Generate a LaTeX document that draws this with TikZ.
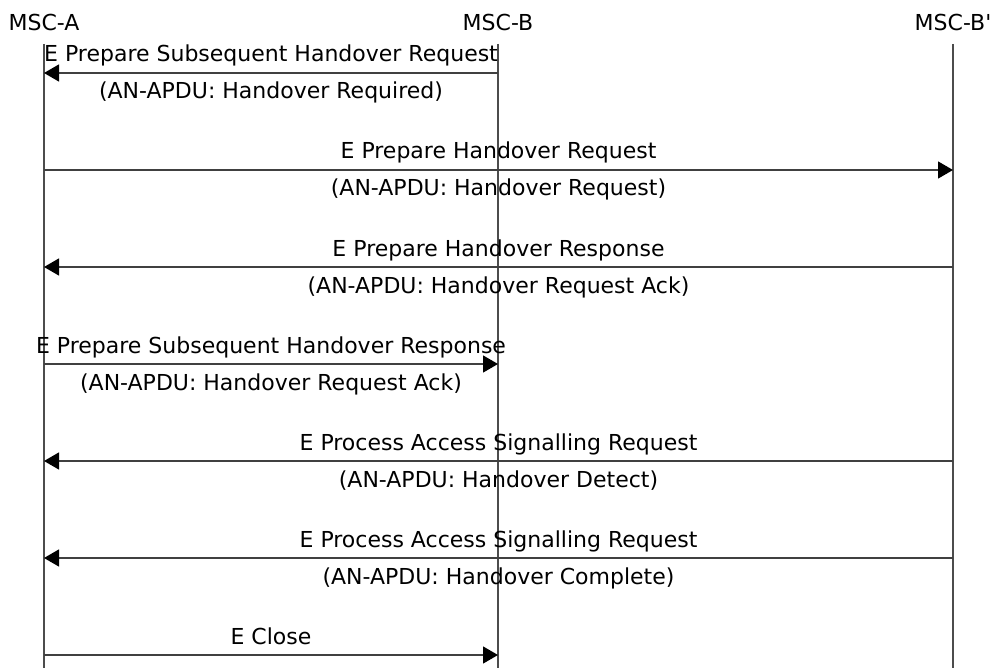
\documentclass[tikz,border=0pt]{standalone}
\usepackage{fontspec}
\setmainfont{DejaVu Sans}
\usetikzlibrary{arrows.meta}
\tikzset{msg/.style={draw=black!75, line width=1.3pt,
			-{Triangle[length=15pt, width=17pt, black]}},
	lbl/.style={inner sep=0pt, anchor=base, font=\fontsize{22}{26}\selectfont},
	life/.style={draw=black!70, line width=1.5pt}}

\begin{document}
\begin{tikzpicture}[x=1pt, y=-1pt]
	\useasboundingbox (0,0) rectangle (992,668);

	\node[lbl] (A) at (44,31) {MSC-A};
	\node[lbl] (B) at (498,31) {MSC-B};
	\node[lbl] (Bp) at (953,31) {MSC-B\textquotesingle};

	\foreach \i/\y in {0/44, 1/73, 2/170, 3/267, 4/364, 5/461, 6/558, 7/655, 8/668} {
		\coordinate (a\i) at (44,\y);
		\coordinate (b\i) at (498,\y);
		\coordinate (c\i) at (953,\y);
	}

	\draw[life] (a0) -- (a8);
	\draw[life] (b0) -- (b8);
	\draw[life] (c0) -- (c8);

	\draw[msg] (b1) -- (a1)
	node[lbl, midway, yshift=11pt] {E Prepare Subsequent Handover Request}
	node[lbl, midway, yshift=-26pt] {(AN-APDU: Handover Required)};
	\draw[msg] (a2) -- (c2)
	node[lbl, midway, yshift=11pt] {E Prepare Handover Request}
	node[lbl, midway, yshift=-26pt] {(AN-APDU: Handover Request)};
	\draw[msg] (c3) -- (a3)
	node[lbl, midway, yshift=11pt] {E Prepare Handover Response}
	node[lbl, midway, yshift=-26pt] {(AN-APDU: Handover Request Ack)};
	\draw[msg] (a4) -- (b4)
	node[lbl, midway, yshift=11pt] {E Prepare Subsequent Handover Response}
	node[lbl, midway, yshift=-26pt] {(AN-APDU: Handover Request Ack)};
	\draw[msg] (c5) -- (a5)
	node[lbl, midway, yshift=11pt] {E Process Access Signalling Request}
	node[lbl, midway, yshift=-26pt] {(AN-APDU: Handover Detect)};
	\draw[msg] (c6) -- (a6)
	node[lbl, midway, yshift=11pt] {E Process Access Signalling Request}
	node[lbl, midway, yshift=-26pt] {(AN-APDU: Handover Complete)};
	\draw[msg] (a7) -- (b7)
	node[lbl, midway, yshift=11pt] {E Close};

\end{tikzpicture}
\end{document}
